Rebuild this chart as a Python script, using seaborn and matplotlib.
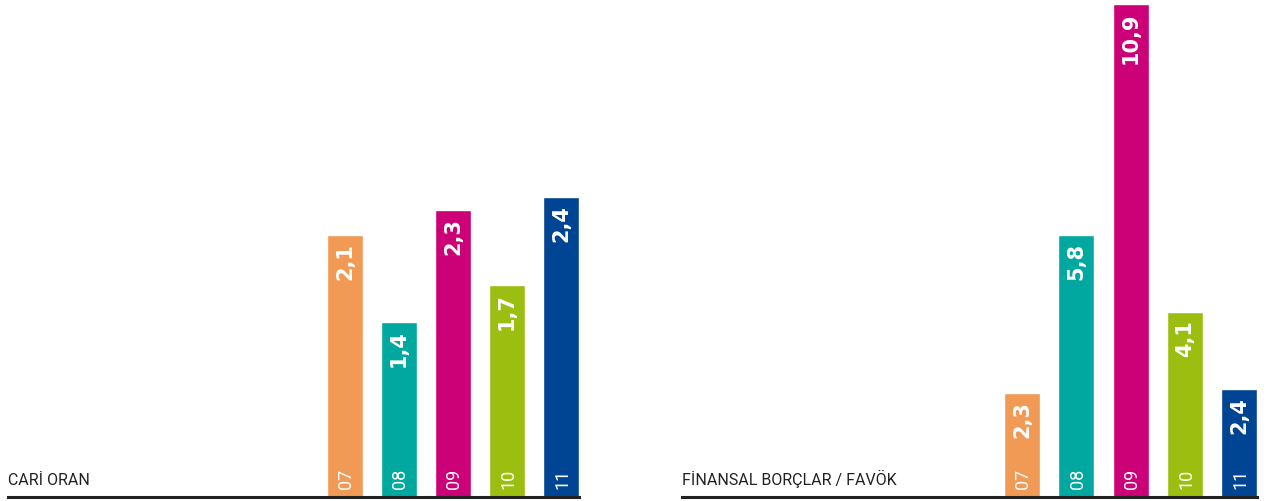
import matplotlib
matplotlib.use("Agg")
import matplotlib.pyplot as plt
import seaborn as sns

# Data
years = ['07', '08', '09', '10', '11']
cari_oran = [2.1, 1.4, 2.3, 1.7, 2.4]
borc_favok = [2.3, 5.8, 10.9, 4.1, 2.4]
bar_colors = ['#F09A56', '#00A8A0', '#CC0077', '#9BBE10', '#004594']
titles = ['CARİ ORAN', 'FİNANSAL BORÇLAR / FAVÖK']

sns.set_style("white")
plt.rcParams['font.family'] = ['Roboto', 'DejaVu Sans']

fig = plt.figure(figsize=(12.69, 5.01), dpi=100)
ax1 = fig.add_axes([8 / 1269, 4 / 501, 571 / 1269, 497 / 501])
ax2 = fig.add_axes([682 / 1269, 4 / 501, 575 / 1269, 497 / 501])

panels = [
    (ax1, cari_oran, 497 / 125, (-6.24, 4.333)),
    (ax2, borc_favok, 497 / 45.2, (-6.27, 4.332)),
]

for (ax, vals, ytop, xlim), title in zip(panels, titles):
    sns.barplot(x=years, y=vals, hue=years, palette=bar_colors, width=0.664,
                saturation=1, legend=False, ax=ax)
    ax.set_xlim(*xlim)
    ax.set_ylim(0, ytop)
    ax.set_xticks([])
    ax.set_yticks([])
    ax.set_xlabel('')
    ax.set_ylabel('')
    for s in ['top', 'left', 'right']:
        ax.spines[s].set_visible(False)
    ax.spines['bottom'].set_color('#222222')
    ax.spines['bottom'].set_linewidth(2.2)

    for i, (yr, v) in enumerate(zip(years, vals)):
        # value at the top of the bar
        ax.annotate(f"{v:.1f}".replace('.', ','), xy=(i, v), xytext=(0, -6),
                    textcoords='offset points', rotation=90, ha='center', va='top',
                    color='white', fontsize=15, fontweight='bold',
                    family=['DejaVu Sans'])
        # year at the bottom of the bar
        ax.annotate(yr, xy=(i, 0), xytext=(1, 6), textcoords='offset points',
                    rotation=90, ha='center', va='bottom', color='white',
                    fontsize=13, fontweight='normal')

    ax.text(0, 0.018, title, transform=ax.transAxes, ha='left', va='bottom',
            fontsize=11.5, color='#222222')

fig.savefig('out.png', dpi=100)
